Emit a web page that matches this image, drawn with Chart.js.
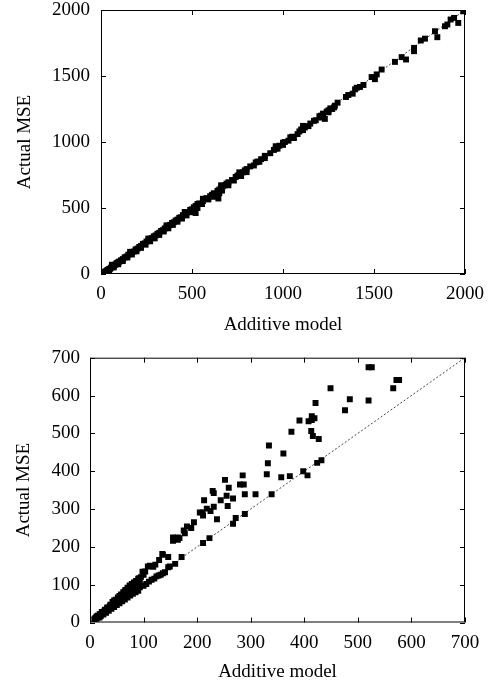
<!DOCTYPE html>
<html>
<head>
<meta charset="utf-8">
<script src="https://cdn.jsdelivr.net/npm/chart.js@4"></script>
<style>
  body { margin: 0; background: #fff; overflow: hidden; }
  .box { position: absolute; left: 0; width: 490px; }
</style>
</head>
<body>
<div class="box" style="top:0;height:340px"><canvas id="topChart"></canvas></div>
<div class="box" style="top:340px;height:355px"><canvas id="bottomChart"></canvas></div>
<script>
const xTitle = 'Additive model';
const yTitle = 'Actual MSE';

const topTicks = [0, 500, 1000, 1500, 2000];
const bottomTicks = [0, 100, 200, 300, 400, 500, 600, 700];

// [additive model, actual MSE]
const topPoints = [
  [5,3],[10,8],[15,12],[20,14],[25,20],[30,22],[35,30],[40,33],[45,38],[50,40],
  [55,48],[60,52],[65,58],[70,62],[75,68],[80,72],[85,80],[90,84],[95,90],[100,94],
  [110,104],[120,113],[130,126],[140,132],[150,146],[160,152],[170,166],[180,170],[190,186],[200,192],
  [210,205],[220,212],[230,228],[240,232],[250,246],[260,252],[270,268],[280,272],[290,285],[300,292],
  [310,305],[320,312],[330,326],[340,332],[350,345],[360,352],[370,366],[380,372],[390,386],[400,392],
  [410,405],[420,412],[430,426],[440,430],[450,446],[460,448],[470,466],[480,470],[490,486],[500,490],
  [505,470],[510,505],[520,515],[520,462],[530,530],[540,535],[560,552],[580,575],[600,590],[610,600],
  [620,612],[630,590],[640,630],[645,572],[650,640],[660,655],[670,665],[680,672],[690,685],[700,695],
  [720,712],[740,735],[750,745],[760,750],[780,770],[790,785],[800,795],[820,815],[850,845],[860,852],
  [880,870],[900,895],[950,940],[960,950],[980,972],[1000,995],[1010,1000],[1040,1035],[1050,1040],[1060,1030],
  [1090,1080],[1100,1095],[1120,1110],[1150,1140],[1170,1160],[1200,1195],[1210,1200],[1220,1215],[1230,1175],[1240,1230],
  [1250,1240],[1260,1255],[1270,1250],[1285,1275],[1300,1298],
  // lower edge of the band
  [20,4],[45,25],[70,50],[95,74],[120,98],[145,125],[170,148],[195,172],[220,198],[245,222],
  [270,248],[295,270],[320,296],[345,322],[370,346],[395,372],[420,396],[445,420],[470,444],[495,468],
  [530,500],[555,530],[590,565],[615,585],[650,612],[665,632],[700,672],[730,708],[770,742],[800,772],
  [840,822],[870,850],[900,878],[930,915],[970,950],[1000,978],[1030,1010],[1080,1060],[1110,1090],[1140,1120],
  [1180,1165],[1210,1185],[1250,1225],[1280,1262],
  // upper edge of the band
  [60,70],[160,168],[260,268],[360,368],[460,470],[560,570],[660,672],[760,770],[960,968],[1110,1122],
  // sparse upper part
  [1346,1341],[1359,1356],[1383,1366],[1396,1399],[1405,1411],[1423,1417],[1442,1432],
  [1487,1492],[1505,1476],[1515,1512],[1542,1549],[1615,1607],[1652,1643],[1676,1625],
  [1720,1713],[1720,1688],[1757,1769],[1780,1783],[1835,1839],[1848,1794],
  [1890,1877],[1903,1890],[1921,1928],[1940,1940],[1963,1902],[1990,1990]
];

const bottomPoints = [
  // dense band near the origin
  [8,9],[12,10],[16,13],[20,17],[25,21],[30,26],[35,31],[40,36],[45,41],[50,46],
  [55,51],[60,56],[65,61],[70,66],[75,71],[80,76],[85,80],[90,84],
  [10,12],[15,16],[20,22],[25,27],[30,33],[35,39],[40,45],[45,50],[50,56],[55,62],
  [60,68],[65,74],[70,79],[75,85],[80,90],[85,96],[90,100],
  [12,15],[18,22],[22,28],[28,34],[32,40],[38,47],[42,54],[48,60],[52,66],[58,74],
  [62,80],[66,86],[70,92],[74,98],[78,102],[82,106],[86,110],[90,116],[95,120],[100,126],
  [14,18],[18,14],[24,24],[27,31],[33,36],[37,43],[43,47],[47,54],[53,59],[57,67],
  [63,71],[67,80],[72,84],[77,93],[83,100],[88,108],[93,112],
  [45,58],[55,70],[65,82],[75,96],[85,106],
  // lower arm
  [84,88],[93,93],[100,97],[105,102],[110,108],[115,113],[120,116],[124,122],[128,124],[132,126],[136,130],[140,133],
  [146,146],[149,148],[159,155],[171,173],[211,210],[223,223],[267,261],[272,276],[289,287],
  // upper arm
  [92,117],[98,134],[103,135],[108,148],[112,150],[118,147],[122,153],[129,165],[135,181],[136,179],
  [146,173],[155,216],[155,225],[164,219],[164,225],[167,223],[175,243],[177,236],[181,254],[189,250],
  [194,265],[205,291],[210,291],[211,283],[213,323],[218,301],[225,295],[229,348],[231,342],[231,306],
  [237,273],[244,323],[252,377],[255,335],[257,308],[259,356],[267,328],[280,365],[285,389],[287,365],
  [289,339],[309,339],[339,339],[330,392],[332,421],[334,468],[357,384],[361,447],[373,387],[376,504],
  [391,534],[398,400],[406,389],[408,532],[413,506],[414,545],[414,535],[416,493],[419,540],[421,580],
  [424,422],[427,485],[432,429],[449,619],[476,561],[485,590],[520,587],[520,675],[526,675],
  [566,619],[572,641],[577,641]
];

const serif = 'Liberation Serif';

const frame = {
  id: 'frame',
  afterDraw(chart) {
    const { ctx, chartArea: a, scales: { x, y } } = chart;
    const len = 5;
    ctx.save();
    ctx.strokeStyle = '#000';
    ctx.lineWidth = 1;
    ctx.strokeRect(a.left + 0.5, a.top + 0.5, a.right - a.left - 1, a.bottom - a.top - 1);
    ctx.beginPath();
    x.ticks.forEach(t => {
      const p = Math.round(x.getPixelForValue(t.value)) + 0.5;
      ctx.moveTo(p, a.bottom); ctx.lineTo(p, a.bottom - len);
      ctx.moveTo(p, a.top); ctx.lineTo(p, a.top + len);
    });
    y.ticks.forEach(t => {
      const p = Math.round(y.getPixelForValue(t.value)) + 0.5;
      ctx.moveTo(a.left, p); ctx.lineTo(a.left + len, p);
      ctx.moveTo(a.right, p); ctx.lineTo(a.right - len, p);
    });
    ctx.stroke();
    ctx.restore();
  }
};

function makeChart(id, points, ticks, dims) {
  const max = ticks[ticks.length - 1];
  const font = { family: serif, size: 19 };
  return new Chart(document.getElementById(id), {
    type: 'scatter',
    data: {
      datasets: [
        {
          data: points.map(p => ({ x: p[0], y: p[1] })),
          pointStyle: 'rect',
          pointRadius: 4.2,
          pointBorderWidth: 0,
          backgroundColor: '#000',
          borderColor: '#000'
        },
        {
          type: 'line',
          data: [{ x: 0, y: 0 }, { x: max, y: max }],
          borderColor: '#444',
          borderWidth: 1,
          borderDash: [2, 2],
          pointRadius: 0,
          fill: false
        }
      ]
    },
    options: {
      responsive: true,
      maintainAspectRatio: false,
      animation: false,
      devicePixelRatio: 1,
      layout: { padding: { top: dims.top, right: 25, left: 0, bottom: 0 } },
      plugins: { legend: { display: false }, tooltip: { enabled: false } },
      scales: {
        x: {
          type: 'linear',
          min: 0,
          max,
          afterBuildTicks: s => { s.ticks = ticks.map(v => ({ value: v })); },
          afterFit: s => { s.height = dims.xHeight; s.paddingLeft = 0; s.paddingRight = 0; },
          grid: { display: false, drawTicks: false },
          border: { display: false },
          ticks: { color: '#000', font, padding: 9, maxRotation: 0, callback: v => String(v) },
          title: { display: true, text: xTitle, color: '#000', font, padding: { top: 0, bottom: dims.xTitlePad } }
        },
        y: {
          type: 'linear',
          min: 0,
          max,
          afterBuildTicks: s => { s.ticks = ticks.map(v => ({ value: v })); },
          afterFit: s => { s.width = dims.yWidth; s.paddingTop = 0; s.paddingBottom = 0; },
          grid: { display: false, drawTicks: false },
          border: { display: false },
          ticks: { color: '#000', font, padding: dims.yPad, callback: v => String(v) },
          title: { display: true, text: yTitle, color: '#000', font, padding: { top: dims.titlePad, bottom: 0 } }
        }
      }
    },
    plugins: [frame]
  });
}

makeChart('topChart', topPoints, topTicks, { top: 10, xHeight: 66, yWidth: 101, yPad: 11, titlePad: 13.6, xTitlePad: 3.6 });
makeChart('bottomChart', bottomPoints, bottomTicks, { top: 17.7, xHeight: 72.5, yWidth: 90, yPad: 10, titlePad: 12.6, xTitlePad: 12 });
</script>
</body>
</html>
